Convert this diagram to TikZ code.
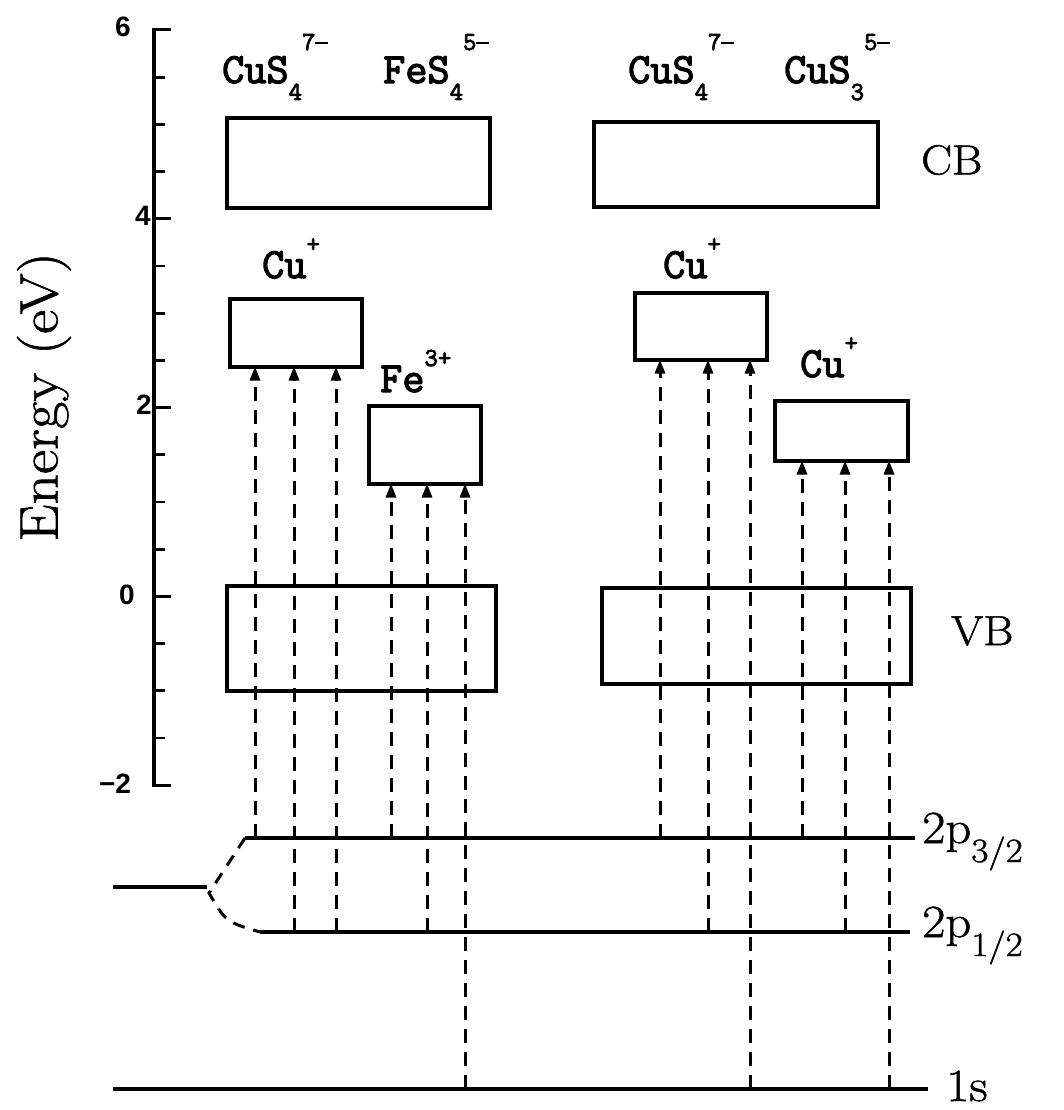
\documentclass[tikz,border=0pt]{standalone}
\usepackage{fontspec}
\usetikzlibrary{arrows.meta}
\newfontfamily\tickfont{Liberation Sans}
\newfontfamily\schfont{Latin Modern Roman}[FakeBold=1.2, FakeStretch=1.1]
\newfontfamily\chemfont{Latin Modern Mono}[FakeBold=3]
\newcommand\mn{\rule[5.5pt]{13pt}{2.6pt}}
\newcommand\chemlab[3]{{\chemfont\fontsize{43}{43}\selectfont #1\fontsize{26}{26}\selectfont\raisebox{-17pt}{#2}\raisebox{33pt}{#3}}}
\newcommand\ionlab[2]{{\chemfont\fontsize{43}{43}\selectfont #1\fontsize{26}{26}\selectfont\raisebox{26pt}{#2}}}
\tikzset{
  band/.style={draw, line width=4pt, rectangle, inner sep=0pt, outer sep=0pt},
  lvl/.style={line width=3.2pt},
  trans/.style={dashed, dash pattern=on 14pt off 9pt, line width=3pt, -{Triangle[length=14pt,width=10pt]}},
  lab/.style={anchor=base west, inner sep=0pt},
  big/.style={font=\schfont\fontsize{42}{42}\selectfont},
  lev/.style={font=\schfont\fontsize{46}{46}\selectfont, anchor=base west, inner sep=0pt},
  tick/.style={font=\tickfont\bfseries\fontsize{28}{28}\selectfont, inner sep=0pt},
}
\begin{document}
\begin{tikzpicture}[x=1pt,y=-1pt]
\useasboundingbox[fill=white] (0,0) rectangle (1063,1110);
% axis
\draw[line width=3.4pt] (154,29) -- (154,787);
\foreach \e in {6,4,2,0,-2} {
  \draw[line width=3pt] (152.3,{30+(6-\e)*94.4}) -- (171,{30+(6-\e)*94.4});
}
\foreach \e in {5.5,5,4.5,3.5,3,2.5,1.5,1,0.5,-0.5,-1,-1.5} {
  \draw[line width=2.8pt] (154,{30+(6-\e)*94.4}) -- (165,{30+(6-\e)*94.4});
}
\node[tick] (t6) at (123,27) {6};
\node[tick] (t4) at (143,216) {4};
\node[tick] (t2) at (144,405) {2};
\node[tick] (t0) at (127,595) {0};
\node[tick] (tm2) at (115,784) {−2};
\node[rotate=90, font=\schfont\fontsize{54}{54}\selectfont, inner sep=0pt] (ylab) at (44,397) {Energy (eV)};

% band boxes
\node[band, minimum width=263, minimum height=89] (cb1) at (358,163) {};
\node[band, minimum width=284, minimum height=84] (cb2) at (735.5,164.5) {};
\node[band, minimum width=132, minimum height=68] (cu1) at (295.5,332.5) {};
\node[band, minimum width=112, minimum height=78] (fe) at (424.5,444.5) {};
\node[band, minimum width=132, minimum height=67] (cu2) at (700.5,326) {};
\node[band, minimum width=133, minimum height=60] (cu3) at (841,430.5) {};
\node[band, minimum width=269, minimum height=105] (vb1) at (361,638) {};
\node[band, minimum width=309, minimum height=96] (vb2) at (756,635.5) {};

% labels
\node[lab] (l1) at (222,83) {\chemlab{CuS}{4}{7\mn}};
\node[lab] (l2) at (383,83) {\chemlab{FeS}{4}{5\mn}};
\node[lab] (l3) at (628,83) {\chemlab{CuS}{4}{7\mn}};
\node[lab] (l4) at (784,83) {\chemlab{CuS}{3}{5\mn}};
\node[lab] (l5) at (262,278) {\ionlab{Cu}{+}};
\node[lab] (l6) at (380,392) {\ionlab{Fe}{3+}};
\node[lab] (l7) at (663,278) {\ionlab{Cu}{+}};
\node[lab] (l8) at (800,377) {\ionlab{Cu}{+}};
\node[big, anchor=west, inner sep=0pt] (cb) at (921,160) {CB};
\node[big, anchor=west, inner sep=0pt] (vb) at (951,631) {VB};

% core levels
\coordinate (p3a) at (245,838);
\coordinate (p3b) at (915,838);
\coordinate (p1a) at (260,932);
\coordinate (p1b) at (910,932);
\coordinate (sa) at (113,1089);
\coordinate (sb) at (928,1089);
\coordinate (pa) at (113,887);
\coordinate (pb) at (207,887);
\coordinate (fork) at (209,893);
\draw[lvl] (p3a) -- (p3b);
\draw[lvl] (p1a) -- (p1b);
\draw[lvl] (sa) -- (sb);
\draw[lvl] (pa) -- (pb);
\draw[dashed, dash pattern=on 12pt off 9pt, line width=3pt] (p3a) -- (fork) .. controls (226,922) .. (p1a);
\node[lev] (n3) at (922,843) {2p\raisebox{-19pt}{\fontsize{34}{34}\selectfont 3/2}};
\node[lev] (n1) at (922,937) {2p\raisebox{-19pt}{\fontsize{34}{34}\selectfont 1/2}};
\node[lev] (n0) at (946,1101) {1s};

% transitions
\foreach \xx/\lv/\bx in {255/838/cu1, 294/932/cu1, 336/932/cu1,
                          391/838/fe, 427/932/fe, 465/1089/fe,
                          660/838/cu2, 708/932/cu2, 750/1089/cu2,
                          802/838/cu3, 845/932/cu3, 889/1089/cu3} {
  \coordinate (s\xx) at (\xx,\lv);
  \draw[trans] (s\xx) -- (s\xx |- \bx.south);
}
\end{tikzpicture}
\end{document}
